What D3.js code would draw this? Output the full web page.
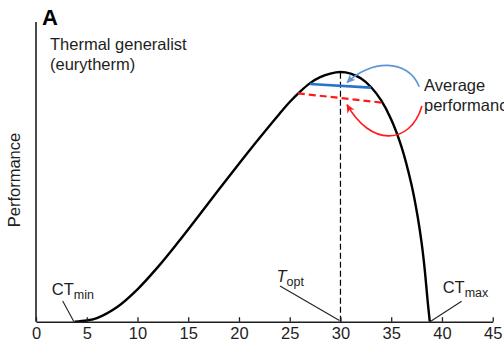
<!DOCTYPE html>
<html>
<head>
<meta charset="utf-8">
<script src="https://cdn.jsdelivr.net/npm/d3@7"></script>
<style>
  html, body { margin: 0; padding: 0; background: #fff; }
  svg { display: block; font-family: "Liberation Sans", Arial, sans-serif; }
</style>
</head>
<body>
<svg id="chart" width="504" height="343"></svg>
<script>
// Thermal performance curve of a thermal generalist (eurytherm)
const temps = [3.8, 5, 6, 8, 10, 12, 14, 16, 18, 20, 22, 24, 25, 26, 27, 28, 29, 30, 31, 32, 33, 34, 35, 36, 37, 37.6, 38, 38.3, 38.6, 38.8];
const performance = [0, 0.004, 0.012, 0.049, 0.108, 0.182, 0.265, 0.352, 0.440, 0.527, 0.612, 0.694, 0.733, 0.767, 0.796, 0.816, 0.828, 0.833, 0.828, 0.812, 0.783, 0.739, 0.675, 0.585, 0.457, 0.352, 0.262, 0.175, 0.065, 0];

// Average performance over a narrow (blue) and a wide (red) temperature range
const narrowRangeT = [27, 33];
const narrowRangeP = [0.793, 0.781];
const wideRangeT = [25.8, 34.1];
const wideRangeP = [0.762, 0.731];

// Key temperatures
const tOpt = 30;
const ctMin = 3.74;
const ctMax = 38.82;

const xTicks = [0, 5, 10, 15, 20, 25, 30, 35, 40, 45];

const svg = d3.select("#chart");
const x = d3.scaleLinear().domain([0, 45]).range([36, 492.7]);
const y = d3.scaleLinear().domain([0, 1]).range([321.7, 22]);

const ink = "#1e1e1e";

// defs: arrowheads
const defs = svg.append("defs");
function arrowHead(id, color) {
  defs.append("marker")
    .attr("id", id)
    .attr("viewBox", "0 0 10 10")
    .attr("refX", 9).attr("refY", 5)
    .attr("markerWidth", 9).attr("markerHeight", 9)
    .attr("markerUnits", "userSpaceOnUse")
    .attr("orient", "auto")
    .append("path")
    .attr("d", "M0,0.5 L10,5 L0,9.5 L3,5 Z")
    .attr("fill", color);
}
arrowHead("headBlue", "#5b95d2");
arrowHead("headRed", "#ff1a1a");

// Performance curve
const line = d3.line()
  .x((d, i) => x(temps[i]))
  .y(d => y(d))
  .curve(d3.curveCatmullRom.alpha(0.5));

svg.append("path")
  .datum(performance)
  .attr("d", line)
  .attr("fill", "none")
  .attr("stroke", "#000")
  .attr("stroke-width", 2.4);

// Optimum temperature marker
const peak = performance[temps.indexOf(tOpt)];
svg.append("line")
  .attr("x1", x(tOpt)).attr("x2", x(tOpt))
  .attr("y1", y(0)).attr("y2", y(peak))
  .attr("stroke", "#000")
  .attr("stroke-width", 1.2)
  .attr("stroke-dasharray", "6,3");

// Average performance lines
const seg = d3.line().x(d => x(d[0])).y(d => y(d[1]));
svg.append("path")
  .attr("d", seg(d3.zip(narrowRangeT, narrowRangeP)))
  .attr("stroke", "#2474cf").attr("stroke-width", 2.6).attr("fill", "none");
svg.append("path")
  .attr("d", seg(d3.zip(wideRangeT, wideRangeP)))
  .attr("stroke", "#ff1a1a").attr("stroke-width", 2.2).attr("fill", "none")
  .attr("stroke-dasharray", "7,4");

// Curved arrows from the label to the two averages
function bez(p) {
  return `M${x(p[0][0])},${y(p[0][1])} C${x(p[1][0])},${y(p[1][1])} ${x(p[2][0])},${y(p[2][1])} ${x(p[3][0])},${y(p[3][1])}`;
}
const blueArrow = [[37.76, 0.784], [36.65, 0.880], [32.9, 0.873], [30.65, 0.798]];
const redArrow = [[38.03, 0.720], [36.85, 0.586], [32.9, 0.586], [30.65, 0.724]];
svg.append("path").attr("d", bez(blueArrow))
  .attr("fill", "none").attr("stroke", "#5b95d2").attr("stroke-width", 1.6)
  .attr("marker-end", "url(#headBlue)");
svg.append("path").attr("d", bez(redArrow))
  .attr("fill", "none").attr("stroke", "#ff1a1a").attr("stroke-width", 1.6)
  .attr("marker-end", "url(#headRed)");

// Axes
const xAxis = d3.axisBottom(x)
  .tickValues(xTicks)
  .tickSizeInner(-4.5)
  .tickSizeOuter(0)
  .tickPadding(6);
const gx = svg.append("g")
  .attr("transform", `translate(0,${y(0)})`)
  .call(xAxis);
gx.select(".domain").attr("stroke", ink).attr("stroke-width", 1.6);
gx.selectAll(".tick line").attr("stroke", ink).attr("stroke-width", 1.3);
gx.selectAll(".tick text")
  .attr("font-size", 16.5)
  .attr("font-family", "Liberation Sans, Arial, sans-serif")
  .attr("fill", ink);

svg.append("line")
  .attr("x1", x(0)).attr("x2", x(0))
  .attr("y1", y(0)).attr("y2", y(1))
  .attr("stroke", ink).attr("stroke-width", 1.6);

// Axis title
svg.append("text")
  .attr("transform", `translate(20,180) rotate(-90)`)
  .attr("text-anchor", "middle")
  .attr("font-size", 16.5)
  .attr("fill", ink)
  .text("Performance");

// Panel letter and titles
svg.append("text").attr("x", 42).attr("y", 25)
  .attr("font-size", 22).attr("font-weight", "bold").attr("fill", "#000").text("A");
svg.append("text").attr("x", 50).attr("y", 49.5)
  .attr("font-size", 16.5).attr("fill", ink).text("Thermal generalist");
svg.append("text").attr("x", 50).attr("y", 69.5)
  .attr("font-size", 16.5).attr("fill", ink).text("(eurytherm)");

svg.append("text").attr("x", 424).attr("y", 91)
  .attr("font-size", 16.5).attr("fill", ink).text("Average");
svg.append("text").attr("x", 424).attr("y", 111)
  .attr("font-size", 16.5).attr("fill", ink).text("performance");

// Leader lines and labels for CTmin, Topt, CTmax
function leader(from, to) {
  svg.append("line")
    .attr("x1", x(from[0])).attr("y1", y(from[1]))
    .attr("x2", x(to[0])).attr("y2", y(to[1]))
    .attr("stroke", "#222").attr("stroke-width", 1.1);
}
leader([2.63, 0.069], [ctMin, 0]);
leader([24.04, 0.119], [tOpt - 0.1, 0.004]);
leader([41.94, 0.068], [ctMax, 0]);

function subLabel(t, p, main, sub, italic) {
  const txt = svg.append("text")
    .attr("x", x(t)).attr("y", y(p))
    .attr("font-size", 16.5).attr("fill", ink);
  txt.append("tspan").attr("font-style", italic ? "italic" : "normal").text(main);
  txt.append("tspan").attr("font-size", 12.5).attr("dy", 4).text(sub);
}
subLabel(1.55, 0.089, "CT", "min", false);
subLabel(23.7, 0.133, "T", "opt", true);
subLabel(40.07, 0.096, "CT", "max", false);
</script>
</body>
</html>
